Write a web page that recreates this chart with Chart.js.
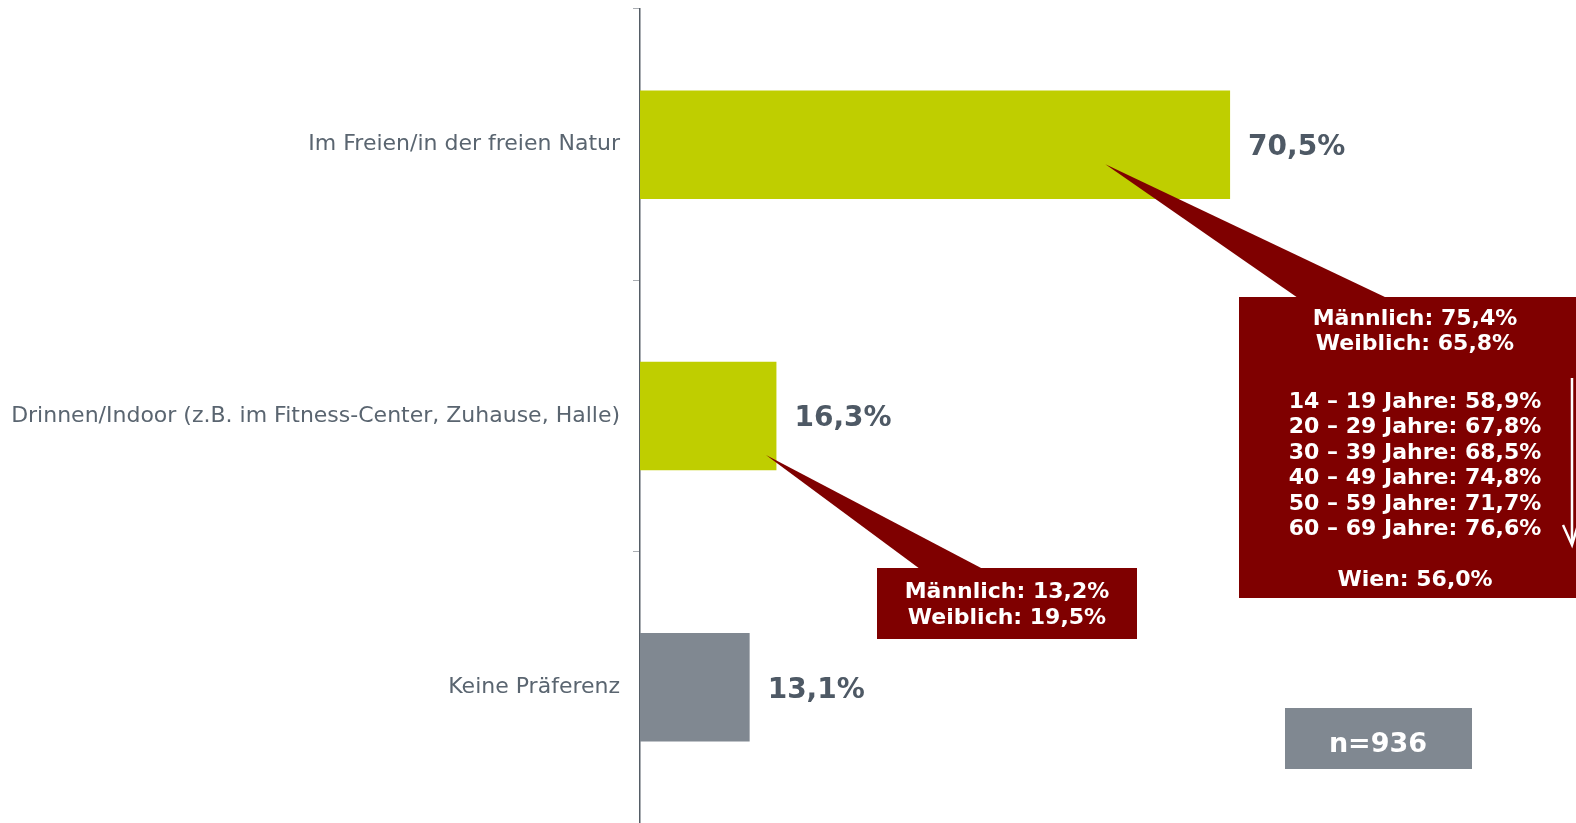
<!DOCTYPE html>
<html>
<head>
<meta charset="utf-8">
<script src="https://cdn.jsdelivr.net/npm/chart.js@4/dist/chart.umd.min.js"></script>
<style>
  html, body { margin: 0; padding: 0; background: #fff; }
  canvas { display: block; }
</style>
</head>
<body>
<canvas id="prefChart" width="1576" height="823"></canvas>
<script>
// Daten
const categories = [
  "Im Freien/in der freien Natur",
  "Drinnen/Indoor (z.B. im Fitness-Center, Zuhause, Halle)",
  "Keine Präferenz",
];
const shares = [70.5, 16.3, 13.1];
const shareLabels = ["70,5%", "16,3%", "13,1%"];
const barColors = ["#bfce00", "#bfce00", "#808891"];

const outdoorDetails = [
  "Männlich: 75,4%",
  "Weiblich: 65,8%",
  "",
  "14 – 19 Jahre: 58,9%",
  "20 – 29 Jahre: 67,8%",
  "30 – 39 Jahre: 68,5%",
  "40 – 49 Jahre: 74,8%",
  "50 – 59 Jahre: 71,7%",
  "60 – 69 Jahre: 76,6%",
  "",
  "Wien: 56,0%",
];
const indoorDetails = ["Männlich: 13,2%", "Weiblich: 19,5%"];
const sampleSize = "n=936";

const FONT = "'DejaVu Sans', Verdana, sans-serif";
const DARK_RED = "#7f0000";

// Werte rechts neben den Balken
const valueLabelPlugin = {
  id: "valueLabels",
  afterDatasetsDraw(chart) {
    const ctx = chart.ctx;
    const meta = chart.getDatasetMeta(0);
    ctx.save();
    ctx.font = "bold 28px " + FONT;
    ctx.fillStyle = "#4e5965";
    ctx.textAlign = "left";
    ctx.textBaseline = "middle";
    meta.data.forEach((bar, i) => {
      ctx.fillText(shareLabels[i], bar.x + 18, bar.y + 3);
    });
    ctx.restore();
  },
};

// Sprechblasen mit Details
const callouts = [
  {
    bar: 0, tipValue: 55.6, tipFrac: 0.68,
    box: { left: 1239, top: 297, right: 1576, bottom: 598 },
    base: [1298, 1387],
    lines: outdoorDetails, textX: 1415, firstY: 319, lineH: 25.5, gaps: [32, 25.5],
    arrow: true,
  },
  {
    bar: 1, tipValue: 15.05, tipFrac: 0.86,
    box: { left: 877, top: 568, right: 1137, bottom: 639 },
    base: [920, 983],
    lines: indoorDetails, textX: 1007, firstY: 592, lineH: 26, gaps: [],
  },
];

const calloutPlugin = {
  id: "callouts",
  afterDatasetsDraw(chart) {
    const ctx = chart.ctx;
    const xs = chart.scales.x;
    const meta = chart.getDatasetMeta(0);
    ctx.save();
    callouts.forEach((c) => {
      const bar = meta.data[c.bar];
      const top = bar.y - bar.height / 2;
      const tipX = xs.getPixelForValue(c.tipValue);
      const tipY = top + bar.height * c.tipFrac;
      const b = c.box;
      ctx.fillStyle = DARK_RED;
      ctx.beginPath();
      ctx.moveTo(tipX, tipY);
      ctx.lineTo(c.base[1], b.top + 1);
      ctx.lineTo(c.base[0], b.top + 1);
      ctx.closePath();
      ctx.fill();
      ctx.fillRect(b.left, b.top, b.right - b.left, b.bottom - b.top);

      ctx.fillStyle = "#fff";
      ctx.font = "bold 22px " + FONT;
      ctx.textAlign = "center";
      ctx.textBaseline = "middle";
      let y = c.firstY;
      let g = 0;
      c.lines.forEach((line) => {
        if (line === "") {
          y += c.gaps[g++];
          return;
        }
        ctx.fillText(line, c.textX, y);
        y += c.lineH;
      });

      if (c.arrow) {
        ctx.strokeStyle = "#fff";
        ctx.lineWidth = 2.5;
        ctx.beginPath();
        ctx.moveTo(1572, 378);
        ctx.lineTo(1572, 543);
        ctx.stroke();
        ctx.beginPath();
        ctx.moveTo(1563, 525);
        ctx.lineTo(1572, 545);
        ctx.lineTo(1578, 525);
        ctx.stroke();
      }
    });

    // Stichprobe
    ctx.fillStyle = "#808891";
    ctx.fillRect(1285, 708, 187, 61);
    ctx.fillStyle = "#fff";
    ctx.font = "bold 27px " + FONT;
    ctx.textAlign = "center";
    ctx.textBaseline = "middle";
    ctx.fillText(sampleSize, 1378, 745);
    ctx.restore();
  },
};

const ctx = document.getElementById("prefChart").getContext("2d");
const prefChart = new Chart(ctx, {
  type: "bar",
  data: {
    labels: categories,
    datasets: [
      {
        data: shares,
        backgroundColor: barColors,
        borderWidth: 0,
        barPercentage: 0.4,
        categoryPercentage: 1,
      },
    ],
  },
  options: {
    indexAxis: "y",
    responsive: false,
    animation: false,
    layout: { padding: { top: 9, right: 99, bottom: 0, left: 0 } },
    plugins: {
      legend: { display: false },
      tooltip: { enabled: false },
    },
    scales: {
      x: {
        display: false,
        min: 0,
        max: 100,
      },
      y: {
        afterFit(scale) {
          scale.width = 640;
          scale.paddingTop = 0;
          scale.paddingBottom = 0;
        },
        border: { color: "#555d66", width: 1.5 },
        grid: {
          drawOnChartArea: false,
          drawTicks: true,
          tickLength: 7,
          tickColor: "#a9adb2",
          offset: true,
        },
        ticks: {
          color: "#5a6570",
          padding: 13,
          font: { family: FONT, size: 22 },
        },
      },
    },
  },
  plugins: [valueLabelPlugin, calloutPlugin],
});
</script>
</body>
</html>
